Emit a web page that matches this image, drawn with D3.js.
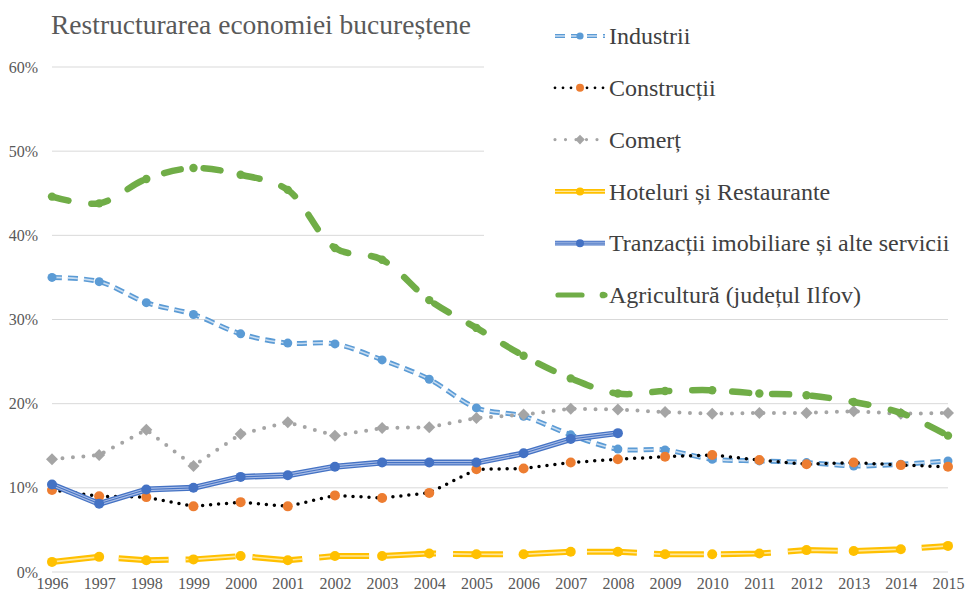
<!DOCTYPE html>
<html>
<head>
<meta charset="utf-8">
<script src="https://cdn.jsdelivr.net/npm/d3@7"></script>
<style>
  html, body { margin: 0; padding: 0; background: #fff; }
  svg { display: block; font-family: "Liberation Serif", "Times New Roman", serif; }
</style>
</head>
<body>
<svg id="chart" width="966" height="597"></svg>
<script>
const years = [1996, 1997, 1998, 1999, 2000, 2001, 2002, 2003, 2004, 2005,
  2006, 2007, 2008, 2009, 2010, 2011, 2012, 2013, 2014, 2015];
const yTicks = [0, 0.1, 0.2, 0.3, 0.4, 0.5, 0.6];

const industrii = [35.0, 34.5, 32.0, 30.6, 28.3, 27.2, 27.1, 25.2, 22.9, 19.5,
  18.5, 16.3, 14.6, 14.5, 13.4, 13.2, 13.0, 12.6, 12.8, 13.2];
const constructii = [9.75, 9.0, 8.9, 7.8, 8.3, 7.8, 9.1, 8.8, 9.4, 12.2,
  12.3, 13.0, 13.4, 13.7, 13.9, 13.3, 12.8, 13.0, 12.7, 12.5];
const comert = [13.4, 13.9, 16.9, 12.6, 16.4, 17.8, 16.2, 17.1, 17.2, 18.3,
  18.7, 19.4, 19.3, 19.0, 18.8, 18.9, 18.9, 19.1, 18.8, 18.9];
const hoteluri = [1.2, 1.8, 1.4, 1.5, 1.9, 1.4, 1.9, 1.9, 2.2, 2.1,
  2.1, 2.4, 2.4, 2.1, 2.1, 2.2, 2.6, 2.5, 2.7, 3.1];
const tranzactii = [10.4, 8.1, 9.8, 10.0, 11.3, 11.5, 12.5, 13.0, 13.0, 13.0,
  14.1, 15.8, 16.5];
const agricultura = [44.6, 43.8, 46.7, 48.0, 47.2, 45.4, 38.5, 37.1, 32.3, 29.0,
  25.7, 23.0, 21.2, 21.5, 21.6, 21.2, 21.0, 20.2, 18.9, 16.2];

const series = [
  { name: "Industrii", values: industrii, kind: "industrii" },
  { name: "Construcții", values: constructii, kind: "constructii" },
  { name: "Comerț", values: comert, kind: "comert" },
  { name: "Hoteluri și Restaurante", values: hoteluri, kind: "hoteluri" },
  { name: "Tranzacții imobiliare și alte servicii", values: tranzactii, kind: "tranzactii" },
  { name: "Agricultură (județul Ilfov)", values: agricultura, kind: "agricultura" }
];

// stroke layers per series, drawn bottom to top
const styles = {
  industrii: {
    curve: d3.curveCatmullRom.alpha(0.5),
    layers: [
      { stroke: "#5b9bd5", width: 5, dash: "10 6" },
      { stroke: "#c9ddf1", width: 1.6, dash: "10 6" }
    ],
    marker: { shape: "circle", r: 4.5, fill: "#5b9bd5" }
  },
  constructii: {
    curve: d3.curveLinear,
    layers: [{ stroke: "#000", width: 3.5, dash: "0 8", cap: "round" }],
    marker: { shape: "circle", r: 5, fill: "#ed7d31" }
  },
  comert: {
    curve: d3.curveLinear,
    layers: [{ stroke: "#a5a5a5", width: 4, dash: "0 10.5", cap: "round" }],
    marker: { shape: "diamond", r: 6, fill: "#a5a5a5" }
  },
  hoteluri: {
    curve: d3.curveLinear,
    layers: [
      { stroke: "#ffc000", width: 6, dash: "50 17" },
      { stroke: "#ffe79a", width: 1.6, dash: "50 17" }
    ],
    marker: { shape: "circle", r: 5, fill: "#ffc000" }
  },
  tranzactii: {
    curve: d3.curveLinear,
    layers: [
      { stroke: "#4472c4", width: 6 },
      { stroke: "#a9bde6", width: 3.4 },
      { stroke: "#4472c4", width: 1.1 }
    ],
    marker: { shape: "circle", r: 5, fill: "#4472c4" }
  },
  agricultura: {
    curve: d3.curveCatmullRom.alpha(0.5),
    layers: [{ stroke: "#70ad47", width: 6.5, dash: "17 23", cap: "round" }],
    marker: { shape: "circle", r: 4.2, fill: "#70ad47" }
  }
};

const svg = d3.select("#chart");
const plotLeft = 52, plotRight = 948, plotTop = 67, plotBottom = 572;

const x = d3.scalePoint().domain(years).range([plotLeft, plotRight]);
const y = d3.scaleLinear().domain([0, 0.6]).range([plotBottom, plotTop]);

// gridlines
svg.append("g")
  .selectAll("line")
  .data(yTicks)
  .join("line")
  .attr("x1", plotLeft)
  .attr("x2", plotRight)
  .attr("y1", (d) => y(d))
  .attr("y2", (d) => y(d))
  .attr("stroke", "#d9d9d9")
  .attr("stroke-width", 1);

// y axis labels
const yAxis = svg.append("g")
  .attr("transform", `translate(${plotLeft - 14},0)`)
  .call(d3.axisLeft(y).tickValues(yTicks).tickFormat(d3.format(".0%")).tickSize(0).tickPadding(0));
yAxis.select(".domain").remove();
yAxis.selectAll("text")
  .attr("fill", "#595959")
  .style("font-family", "Liberation Serif, serif")
  .style("font-size", "16px");

// x axis labels
const xAxis = svg.append("g")
  .attr("transform", `translate(0,${plotBottom + 6})`)
  .call(d3.axisBottom(x).tickSize(0).tickPadding(0).tickFormat(d3.format("d")));
xAxis.select(".domain").remove();
xAxis.selectAll("text")
  .attr("fill", "#595959")
  .attr("dy", "0.71em")
  .style("font-family", "Liberation Serif, serif")
  .style("font-size", "16px");

function drawMarker(g, m, cx, cy) {
  if (m.shape === "diamond") {
    g.append("path")
      .attr("d", `M${cx},${cy - m.r}L${cx + m.r},${cy}L${cx},${cy + m.r}L${cx - m.r},${cy}Z`)
      .attr("fill", m.fill);
  } else {
    g.append("circle")
      .attr("cx", cx)
      .attr("cy", cy)
      .attr("r", m.r)
      .attr("fill", m.fill);
  }
}

const plot = svg.append("g");

series.forEach((s) => {
  const st = styles[s.kind];
  const pts = s.values.map((v, i) => [x(years[i]), y(v / 100)]);
  const line = d3.line().curve(st.curve);
  const g = plot.append("g");
  st.layers.forEach((l) => {
    g.append("path")
      .attr("d", line(pts))
      .attr("fill", "none")
      .attr("stroke", l.stroke)
      .attr("stroke-width", l.width)
      .attr("stroke-dasharray", l.dash || null)
      .attr("stroke-linecap", l.cap || "butt")
      .attr("stroke-linejoin", "round");
  });
  pts.forEach((p) => drawMarker(g, st.marker, p[0], p[1]));
});

// legend with white background
const legend = svg.append("g");
legend.append("rect")
  .attr("x", 484)
  .attr("y", 0)
  .attr("width", 482)
  .attr("height", 313)
  .attr("fill", "#fff");

const legendY = d3.scalePoint().domain(series.map((s) => s.name)).range([36, 295]);
const symX0 = 555, symX1 = 605;

series.forEach((s) => {
  const st = styles[s.kind];
  const cy = legendY(s.name);
  const g = legend.append("g");
  const legendDash = {
    industrii: "10 6", constructii: "0 8", comert: "0 10.5",
    hoteluri: null, tranzactii: null, agricultura: "24 22"
  }[s.kind];
  st.layers.forEach((l) => {
    g.append("line")
      .attr("x1", s.kind === "agricultura" ? symX0 + 3 : symX0)
      .attr("x2", symX1)
      .attr("y1", cy)
      .attr("y2", cy)
      .attr("stroke", l.stroke)
      .attr("stroke-width", l.width * 0.8)
      .attr("stroke-dasharray", legendDash)
      .attr("stroke-linecap", l.cap || "butt");
  });
  const m = Object.assign({}, st.marker, { r: st.marker.r * 0.8 });
  drawMarker(g, m, s.kind === "agricultura" ? symX1 - 2 : (symX0 + symX1) / 2, cy);
  legend.append("text")
    .attr("x", 609)
    .attr("y", cy)
    .attr("dy", "0.34em")
    .attr("fill", "#404040")
    .style("font-size", "24px")
    .text(s.name);
});

// title
svg.append("text")
  .attr("x", 51)
  .attr("y", 34)
  .attr("fill", "#595959")
  .style("font-size", "27.5px")
  .text("Restructurarea economiei bucureștene");
</script>
</body>
</html>
